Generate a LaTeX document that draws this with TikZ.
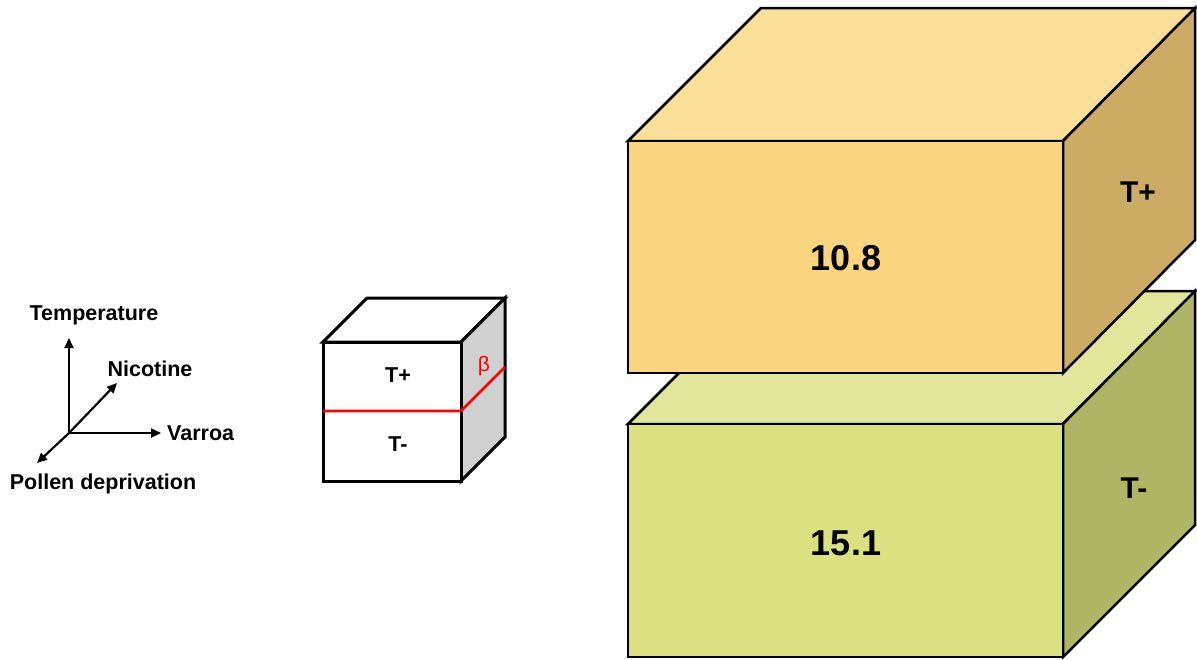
\documentclass[tikz,border=0pt]{standalone}
\usepackage{fontspec}
\setmainfont{Liberation Sans}
\usetikzlibrary{arrows.meta}
\definecolor{hotfront}{RGB}{251,213,127}
\definecolor{hottop}{RGB}{252,223,153}
\definecolor{hotside}{RGB}{204,172,100}
\definecolor{coldfront}{RGB}{219,225,128}
\definecolor{coldtop}{RGB}{226,230,155}
\definecolor{coldside}{RGB}{176,180,101}
\definecolor{cubeside}{RGB}{208,208,208}
\tikzset{
  font=\bfseries\fontsize{21.5}{24}\selectfont,
  >={Triangle[length=10pt,width=9pt]},
  edge/.style={draw=black, line width=2.5pt, line join=miter},
  cube/.style={edge, line width=3pt},
  axis/.style={draw=black, line width=2.2pt, ->},
  lab/.style={inner sep=1pt},
  big/.style={lab, font=\bfseries\fontsize{36}{40}\selectfont},
  side/.style={lab, font=\bfseries\fontsize{30}{34}\selectfont},
  split/.style={draw=red, line width=2.6pt},
}

\begin{document}
\begin{tikzpicture}[x=1pt,y=-1pt]
\useasboundingbox (0,0) rectangle (1197,659);
% axes
\coordinate (o) at (69,433);
\coordinate (temp) at (69,338);
\coordinate (varroa) at (161,433);
\coordinate (nico) at (117,383);
\coordinate (pollen) at (37,463);
\draw[axis] (o) -- (temp);
\draw[axis] (o) -- (varroa);
\draw[axis] (o) -- (nico);
\draw[axis] (o) -- (pollen);
\node[lab] (ltemp) at (94,315) {Temperature};
\node[lab] (lnico) at (150,369) {Nicotine};
\node[lab, anchor=west] (lvarroa) at (166,433) {Varroa};
\node[lab] (lpollen) at (103,484) {Pollen deprivation};
% small cube, depth 44
\def\d{44}
\filldraw[cube, fill=white] (323,342) -- ++(\d,-\d) -- (505,298) -- (461,342) -- cycle;
\filldraw[cube, fill=cubeside] (461,342) -- (505,298) -- (505,437) -- (461,481) -- cycle;
\filldraw[cube, fill=white] (323,342) rectangle (461,481);
\draw[split] (323,411) -- (461,411) -- ++(\d,-\d);
\node[lab] (cplus) at (398,375) {T+};
\node[lab] (cminus) at (398,444) {T-};
\node[lab, font=\fontsize{21}{24}\selectfont, text=red] (beta) at (484,366) {β};
% big boxes, depth 133
\def\D{133}
% T- box (behind)
\filldraw[edge, fill=coldtop] (628,424) -- ++(\D,-\D) -- (1195,291) -- (1063,424) -- cycle;
\filldraw[edge, fill=coldside] (1063,424) -- (1195,291) -- (1195,525) -- (1063,657) -- cycle;
\filldraw[edge, fill=coldfront] (628,424) rectangle (1063,657);
\node[big] (low) at (846,543) {15.1};
\node[side] (lowside) at (1134,488) {T-};
% T+ box (front)
\filldraw[edge, fill=hottop] (628,141) -- ++(\D,-\D) -- (1195,8) -- (1063,141) -- cycle;
\filldraw[edge, fill=hotside] (1063,141) -- (1195,8) -- (1195,240) -- (1063,373) -- cycle;
\filldraw[edge, fill=hotfront] (628,141) rectangle (1063,373);
\node[big] (high) at (846,258) {10.8};
\node[side] (highside) at (1138,192) {T+};
\end{tikzpicture}
\end{document}
